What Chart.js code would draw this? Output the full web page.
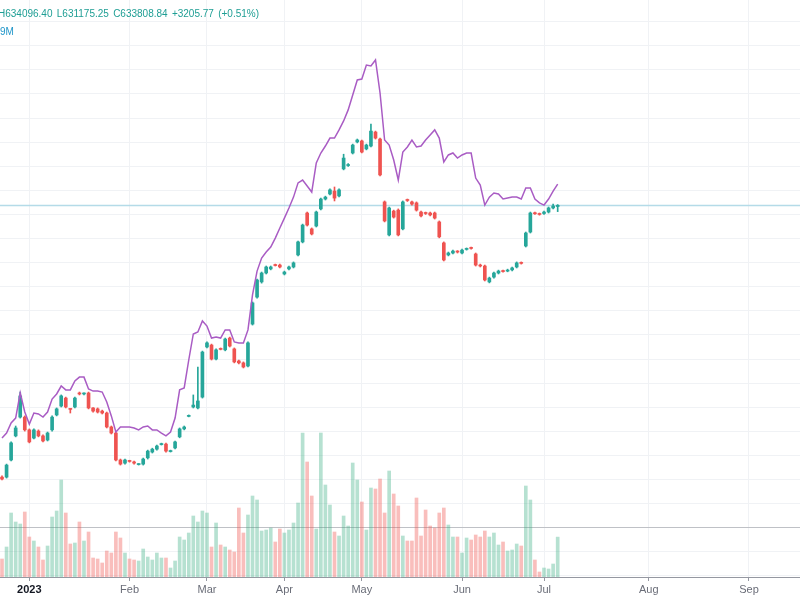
<!DOCTYPE html>
<html>
<head>
<meta charset="utf-8">
<script src="https://cdn.jsdelivr.net/npm/chart.js@4.4.0/dist/chart.umd.min.js"></script>
<style>
  html, body { margin: 0; padding: 0; background: #fff; }
  #wrap { position: relative; width: 800px; height: 600px; overflow: hidden; }
  #ohlc { position: absolute; left: -2px; top: 8px; font: 10px "Liberation Sans", Arial, sans-serif; color: #1e9e94; white-space: nowrap; word-spacing: 1.5px; }
  #volText { position: absolute; left: 0; top: 26px; font: 10px "Liberation Sans", Arial, sans-serif; color: #2196c9; white-space: nowrap; }
</style>
</head>
<body>
<div id="wrap">
  <canvas id="chart" width="800" height="600"></canvas>
  <div id="ohlc">H634096.40 L631175.25 C633808.84 +3205.77 (+0.51%)</div>
  <div id="volText">9M</div>
</div>
<script>
// month ticks (bar index where each label sits)
const monthPos = [6, 28, 45, 62, 79, 101, 119, 142, 164];
const monthLabels = ['2023', 'Feb', 'Mar', 'Apr', 'May', 'Jun', 'Jul', 'Aug', 'Sep'];

// daily candles
const opens = [521000, 521000, 528100, 538100, 545900, 545900, 540600, 537200, 540100, 538100,
  536400, 540600, 546800, 550500, 553800, 549300, 550100, 555900, 555500, 555900,
  549700, 549300, 548400, 547600, 541800, 539300, 528100, 526800, 527700, 527300,
  526200, 526400, 529000, 531400, 532600, 534500, 534700, 531600, 533100, 537700,
  541000, 546200, 550100, 549700, 554200, 575000, 575800, 570000, 574200, 573800,
  578700, 574200, 569200, 568400, 567100, 584500, 595700, 602000, 605700, 607400,
  609000, 609000, 605300, 607400, 608200, 613200, 618600, 630600, 624000, 625200,
  632300, 636400, 638500, 639700, 637700, 648900, 650300, 655500, 660100, 660500,
  657200, 658400, 664200, 661300, 635200, 621500, 631400, 631800, 624000, 636000,
  635200, 634800, 631000, 630600, 630600, 630600, 626900, 618200, 613200, 614000,
  614600, 614000, 615500, 616200, 613600, 609000, 608600, 602000, 604000, 605700,
  606600, 606500, 607000, 608200, 610000, 616900, 622700, 630600, 630300, 630400,
  631000, 632700, 633300];
const highs = [521500, 526400, 535600, 542200, 556300, 546400, 541000, 541000, 540600, 538500,
  539700, 546400, 549700, 555100, 554200, 549300, 554200, 556300, 556000, 556300,
  549900, 549700, 548800, 548000, 542200, 539700, 528500, 528500, 528000, 527700,
  526600, 528900, 532200, 533000, 534300, 535100, 535100, 532200, 536000, 541400,
  542200, 546800, 555100, 566700, 573300, 577100, 576200, 574200, 574600, 578700,
  579100, 574600, 569600, 568800, 577100, 593700, 603200, 606100, 608600, 608600,
  609400, 609400, 606500, 608600, 610300, 619000, 626000, 631000, 624400, 631400,
  636800, 637600, 640600, 641400, 640600, 655000, 651100, 659200, 661300, 660900,
  659200, 667500, 664600, 661700, 635600, 633100, 631800, 632300, 635600, 636400,
  635600, 635200, 631400, 631000, 631000, 631000, 627300, 618600, 614400, 615200,
  615000, 615600, 616100, 616500, 614000, 609400, 609000, 604000, 606100, 606900,
  606900, 607300, 608200, 610300, 610300, 622700, 631000, 631000, 630600, 631400,
  633100, 634300, 634096.40];
const lows = [519800, 520600, 527700, 537700, 545500, 540100, 535200, 536800, 537700, 535600,
  536000, 540100, 546400, 550100, 549700, 547600, 549700, 555100, 555100, 549300,
  548000, 547600, 547200, 541400, 538900, 527700, 526000, 526400, 527200, 526400,
  526000, 526000, 528500, 531000, 532200, 534300, 531400, 531400, 532700, 537300,
  540600, 546000, 549700, 549300, 553800, 574600, 569600, 569600, 573800, 573400,
  575000, 568400, 568000, 566300, 566700, 584100, 595300, 601500, 605300, 607000,
  608600, 607800, 604900, 607000, 607800, 612800, 618200, 625200, 621500, 624800,
  631900, 636000, 638100, 635600, 637300, 648500, 649900, 655100, 659700, 655500,
  656800, 658000, 661300, 646000, 626900, 621100, 628500, 621100, 623600, 635400,
  633900, 631400, 629000, 630000, 629400, 628100, 620300, 610700, 612800, 613600,
  614000, 613600, 615200, 615600, 608600, 608200, 602400, 601600, 603600, 605300,
  606000, 606200, 606600, 607800, 609400, 616500, 622300, 630000, 629700, 630000,
  630600, 632300, 631175.25];
const closes = [520200, 526000, 535200, 541400, 554700, 540600, 535600, 540600, 538100, 536000,
  539300, 545900, 549300, 554700, 550100, 549100, 553800, 555500, 555700, 549700,
  548400, 548000, 547600, 541800, 539300, 528100, 526400, 528100, 527500, 526800,
  526400, 528500, 531800, 532600, 533900, 534800, 531800, 531900, 535600, 541000,
  541800, 546500, 550900, 552600, 572900, 576700, 570000, 573800, 574000, 578300,
  575400, 568800, 568400, 566700, 576700, 593300, 602800, 605700, 608200, 608200,
  608800, 608200, 606100, 608200, 609900, 618600, 625600, 625600, 621900, 631000,
  636400, 637200, 640200, 636800, 640200, 653400, 650700, 658800, 660900, 655900,
  658800, 664600, 661700, 646400, 627300, 632700, 628900, 621500, 635200, 635800,
  634300, 631800, 629400, 630400, 629800, 628500, 620700, 611100, 614000, 614800,
  614400, 615200, 615800, 615900, 609000, 608600, 602800, 603600, 605700, 606500,
  606300, 606900, 607800, 609900, 609700, 622300, 630600, 630300, 630000, 631000,
  632700, 633500, 633808.84];

// comparison symbol (purple line), same price scale
const compareLine = [537200, 539300, 543500, 545500, 555900, 548000, 543000, 547600, 547200, 545900,
  548000, 553400, 555500, 558800, 557200, 557200, 560900, 562500, 562500, 557600,
  556700, 556700, 556300, 552200, 546400, 539700, 541800, 541800, 541800, 541400,
  540600, 541800, 542200, 540600, 540600, 539300, 538100, 539700, 545500, 557200,
  558000, 569600, 580400, 581200, 585800, 583700, 578700, 579100, 578700, 582100,
  582100, 577100, 576700, 576700, 582100, 596600, 606500, 611900, 614400, 616500,
  620200, 624400, 628500, 632700, 637200, 643100, 644300, 641800, 639300, 651400,
  655500, 658400, 661700, 661700, 665100, 668800, 673400, 679600, 685800, 686200,
  692000, 691600, 694100, 680400, 660900, 658800, 652600, 644300, 655900, 658000,
  660900, 658000, 658400, 660900, 663000, 665100, 661700, 651800, 654700, 655500,
  653400, 654700, 655500, 655500, 645100, 642200, 633900, 637200, 638900, 638500,
  636400, 636800, 637200, 637200, 636400, 641000, 641000, 636400, 634800, 633900,
  636400, 639700, 642600];

// volume, millions
const volumeM = [1.44, 2.40, 5.12, 4.40, 4.24, 5.20, 3.20, 2.88, 2.40, 1.36,
  2.48, 4.80, 5.28, 7.76, 5.12, 2.64, 2.72, 4.40, 2.88, 3.60,
  1.52, 1.44, 1.12, 2.08, 1.92, 3.60, 3.12, 1.92, 1.44, 1.36,
  1.28, 2.24, 1.60, 1.36, 1.92, 1.52, 1.52, 0.72, 1.28, 3.20,
  2.96, 3.52, 4.88, 4.40, 5.28, 5.12, 2.40, 4.32, 2.56, 2.40,
  2.16, 2.00, 5.52, 3.52, 4.96, 6.48, 6.16, 3.68, 3.76, 3.92,
  2.80, 3.84, 3.52, 3.76, 4.32, 5.92, 11.52, 9.20, 6.48, 3.84,
  11.52, 7.36, 5.76, 3.60, 3.28, 4.88, 4.08, 9.12, 7.76, 6.00,
  3.76, 7.12, 7.04, 7.84, 5.12, 8.48, 6.64, 5.68, 3.28, 2.88,
  2.88, 6.32, 3.28, 5.36, 4.08, 3.92, 5.12, 5.52, 4.16, 3.20,
  3.20, 1.92, 3.12, 2.96, 3.36, 3.20, 3.68, 3.20, 3.52, 2.56,
  2.80, 2.08, 2.16, 2.64, 2.48, 7.28, 6.16, 1.36, 0.40, 0.72,
  0.64, 1.04, 3.19];

const idx = opens.map((_, i) => i);
const isUp = closes.map((c, i) => c >= opens[i]);
const candleColors = isUp.map(u => u ? '#26a69a' : '#ef5350');
const volColors = isUp.map(u => u ? 'rgba(52,172,128,0.36)' : 'rgba(239,83,80,0.38)');

// line at the last close
const lastPriceLine = {
  id: 'lastPriceLine',
  beforeDatasetsDraw(chart) {
    const { ctx, chartArea, scales } = chart;
    const y = Math.round(scales.y.getPixelForValue(closes[closes.length - 1])) + 0.5;
    ctx.save();
    ctx.strokeStyle = '#b4dbe8';
    ctx.lineWidth = 1.5;
    ctx.beginPath();
    ctx.moveTo(chartArea.left, y);
    ctx.lineTo(chartArea.right, y);
    ctx.stroke();
    ctx.restore();
  }
};

new Chart(document.getElementById('chart'), {
  type: 'bar',
  data: {
    datasets: [
      {
        type: 'line', label: 'Compare', yAxisID: 'y', order: 1,
        data: idx.map(i => ({ x: i, y: compareLine[i] })),
        borderColor: '#a95cc4', borderWidth: 1.5, pointRadius: 0, tension: 0
      },
      {
        label: 'Body', yAxisID: 'y', order: 2, grouped: false,
        data: idx.map(i => ({ x: i, y: [opens[i], closes[i]] })),
        backgroundColor: candleColors, barThickness: 3, minBarLength: 1
      },
      {
        label: 'Wick', yAxisID: 'y', order: 3, grouped: false,
        data: idx.map(i => ({ x: i, y: [lows[i], highs[i]] })),
        backgroundColor: candleColors, barThickness: 1
      },
      {
        label: 'Volume', yAxisID: 'vol', order: 4, grouped: false,
        data: idx.map(i => ({ x: i, y: volumeM[i] })),
        backgroundColor: volColors, barThickness: 3
      }
    ]
  },
  options: {
    responsive: false,
    animation: false,
    layout: { padding: 0 },
    plugins: { legend: { display: false }, tooltip: { enabled: false } },
    scales: {
      x: {
        type: 'linear', min: -0.44, max: 175.2, offset: false,
        afterBuildTicks: s => { s.ticks = monthPos.map(v => ({ value: v })); },
        afterFit: s => { s.height = 23; },
        grid: { offset: false, color: '#f0f2f5', tickColor: '#9598a1', tickLength: 4 },
        border: { color: '#9598a1' },
        ticks: {
          autoSkip: false, maxRotation: 0, padding: 2,
          callback: (v, i) => monthLabels[i],
          color: c => c.index === 0 ? '#131722' : '#6a6d78',
          font: c => ({ family: '"Liberation Sans", Arial, sans-serif', size: 11, weight: c.index === 0 ? 'bold' : 'normal' })
        }
      },
      y: {
        type: 'linear', position: 'right', min: 479545, max: 719000,
        afterBuildTicks: s => {
          const t = [];
          for (let v = 480000; v <= 710000; v += 10000) t.push({ value: v });
          s.ticks = t;
        },
        afterFit: s => { s.width = 0; },
        ticks: { display: false },
        border: { display: false },
        grid: { drawTicks: false, color: c => (c.tick && c.tick.value === 500000) ? '#bfc1c6' : '#f0f2f5' }
      },
      vol: { type: 'linear', display: false, min: 0, max: 46.16 }
    }
  },
  plugins: [lastPriceLine]
});
</script>
</body>
</html>
